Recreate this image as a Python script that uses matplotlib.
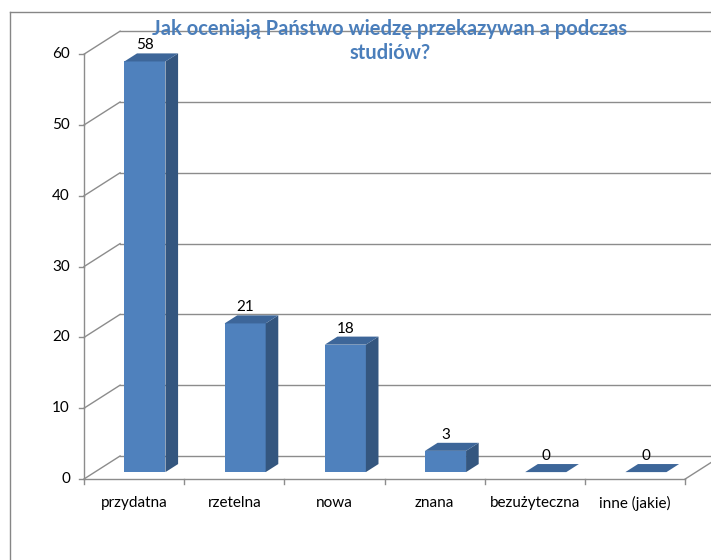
import matplotlib.pyplot as plt
from matplotlib.patches import Polygon
from matplotlib.lines import Line2D

# data
categories = ['przydatna', 'rzetelna', 'nowa', 'znana', 'bezużyteczna', 'inne (jakie)']
values = [58, 21, 18, 3, 0, 0]
y_ticks = [0, 10, 20, 30, 40, 50, 60]
title = 'Jak oceniają Państwo wiedzę przekazywan a podczas\nstudiów?'

# pseudo-3D geometry (data units)
DX, DY = 0.36, 3.25      # full depth offset of back wall
D0, D1 = 0.30, 0.65      # bar front / back depth fraction
BAR_W = 0.41

FRONT = '#4f81bd'
SIDE = '#34567f'
TOP = '#3d6699'
GRID = '#8c8c8c'

plt.rcParams['font.family'] = ['Lato', 'DejaVu Sans']

fig = plt.figure(figsize=(7.11, 5.6), dpi=100)
ax = fig.add_axes([0, 0, 1, 1])
ax.set_xlim(-84 / 100.2, (711 - 84) / 100.2)
ax.set_ylim(-81 / 7.08, 479 / 7.08)
ax.axis('off')

n = len(categories)

# chart border (cropped chart area)
fig.add_artist(Line2D([10 / 711, 10 / 711], [0, 1 - 12 / 560], transform=fig.transFigure,
                      color='#868686', lw=1))
fig.add_artist(Line2D([10 / 711, 1], [1 - 12 / 560, 1 - 12 / 560], transform=fig.transFigure,
                      color='#868686', lw=1))

# back wall gridlines and side wall diagonals
for v in y_ticks:
    ax.plot([DX, n + DX], [v + DY, v + DY], color=GRID, lw=1, zorder=1)
    ax.plot([0, DX], [v, v + DY], color=GRID, lw=1, zorder=1)
    ax.plot([-0.05, 0], [v, v], color=GRID, lw=1, zorder=1)
    ax.text(-0.14, v, str(v), ha='right', va='center', fontsize=11, color='black')

# y axis and floor
ax.plot([0, 0], [0, y_ticks[-1]], color=GRID, lw=1, zorder=1)
ax.plot([0, n], [0, 0], color=GRID, lw=1, zorder=1)
ax.plot([n, n + DX], [0, DY], color=GRID, lw=1, zorder=1)
for i in range(n + 1):
    ax.plot([i, i], [0, -0.7], color=GRID, lw=1, zorder=1)

# bars
for i, v in enumerate(values):
    x0 = i + 0.5 - BAR_W / 2
    x1 = i + 0.5 + BAR_W / 2
    if v > 0:
        ax.bar(i + 0.5 + D0 * DX, v, width=BAR_W, bottom=D0 * DY, color=FRONT, zorder=3)
        side = [(x1 + D0 * DX, D0 * DY), (x1 + D1 * DX, D1 * DY),
                (x1 + D1 * DX, v + D1 * DY), (x1 + D0 * DX, v + D0 * DY)]
        ax.add_patch(Polygon(side, closed=True, facecolor=SIDE, edgecolor='none', zorder=3))
    top = [(x0 + D0 * DX, v + D0 * DY), (x1 + D0 * DX, v + D0 * DY),
           (x1 + D1 * DX, v + D1 * DY), (x0 + D1 * DX, v + D1 * DY)]
    ax.add_patch(Polygon(top, closed=True, facecolor=TOP, edgecolor='none', zorder=3))
    ax.text(i + 0.5 + D0 * DX, v + D1 * DY + 8 / 7.08, str(v), ha='center', va='center',
            fontsize=11, color='black', zorder=4)

# category labels
for i, c in enumerate(categories):
    ax.text(i + 0.5, -24 / 7.08, c, ha='center', va='center', fontsize=11, color='black')

# title
ax.text((390 - 84) / 100.2, (479 - 41) / 7.08, title, ha='center', va='center',
        fontsize=14.5, fontweight='bold', color='#4a7ebb', linespacing=1.2, zorder=5)

fig.savefig('out.png', dpi=100)
